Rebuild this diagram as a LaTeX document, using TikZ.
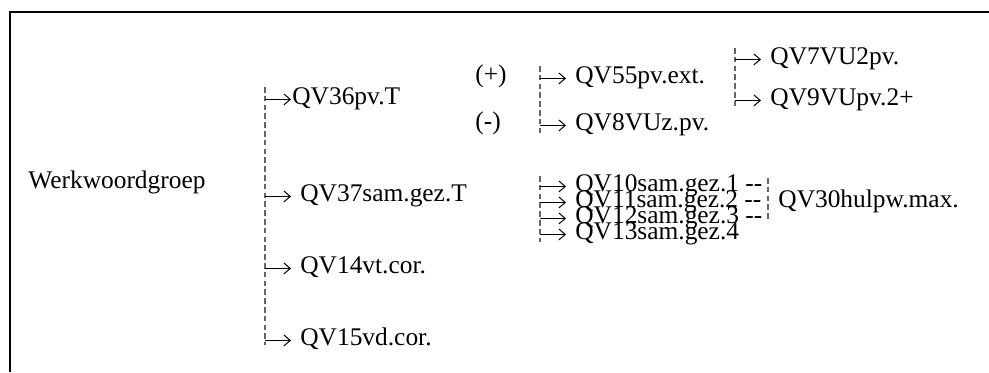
\documentclass[tikz,border=0pt]{standalone}
\usepackage{fontspec}
\setmainfont{Liberation Serif}
\usetikzlibrary{arrows.meta}

\tikzset{
  item/.style={anchor=base west,inner sep=0pt,font=\fontsize{12.7}{14}\selectfont},
  bar/.style={draw=black!60,line width=0.6pt,dash pattern=on 2.8pt off 1.6pt},
  link/.style={line width=0.5pt,-{Straight Barb[length=3.2pt,width=5.5pt]}}
}

\begin{document}
\begin{tikzpicture}[x=0.5pt,y=-0.5pt]
        \useasboundingbox (0,0) rectangle (989,372);
        \draw[line width=1pt] (10,372) -- (10,12) -- (989,12);
        % first level
        \node[item] (wwg) at (28,188) {Werkwoordgroep};
        \coordinate (b1t) at (265,87);
        \coordinate (b1b) at (265,345);
        \draw[bar] (b1t) -- (b1b);
        \node[item] (q36) at (292,104) {QV36pv.T};
        \node[item] (q37) at (300,201) {QV37sam.gez.T};
        \node[item] (q14) at (300,273) {QV14vt.cor.};
        \node[item] (q15) at (300,345) {QV15vd.cor.};
        \draw[link] (b1t |- q36.mid west) -- ([xshift=-0.5pt]q36.mid west);
        \draw[link] (b1t |- q37.mid west) -- ([xshift=-4.5pt]q37.mid west);
        \draw[link] (b1t |- q14.mid west) -- ([xshift=-4.5pt]q14.mid west);
        \draw[link] (b1t |- q15.mid west) -- ([xshift=-4.5pt]q15.mid west);
        % pv.T branch
        \node[item] (plus) at (475,82) {(+)};
        \node[item] (minus) at (475,129) {(-)};
        \coordinate (b2t) at (540,66);
        \coordinate (b2b) at (540,133);
        \draw[bar] (b2t) -- (b2b);
        \node[item] (q55) at (575,83) {QV55pv.ext.};
        \node[item] (q8) at (575,130) {QV8VUz.pv.};
        \draw[link] (b2t |- q55.mid west) -- ([xshift=-4.5pt]q55.mid west);
        \draw[link] (b2t |- q8.mid west) -- ([xshift=-4.5pt]q8.mid west);
        \coordinate (b3t) at (735,48);
        \coordinate (b3b) at (735,107);
        \draw[bar] (b3t) -- (b3b);
        \node[item] (q7) at (770,64) {QV7VU2pv.};
        \node[item] (q9) at (770,105) {QV9VUpv.2+};
        \draw[link] (b3t |- q7.mid west) -- ([xshift=-4.5pt]q7.mid west);
        \draw[link] (b3t |- q9.mid west) -- ([xshift=-4.5pt]q9.mid west);
        % sam.gez.T branch
        \coordinate (b4t) at (540,176);
        \coordinate (b4b) at (540,242);
        \draw[bar] (b4t) -- (b4b);
        \node[item] (q10) at (575,191) {QV10sam.gez.1 -{}-};
        \node[item] (q11) at (575,207) {QV11sam.gez.2 -{}-};
        \node[item] (q12) at (575,223) {QV12sam.gez.3 -{}-};
        \node[item] (q13) at (575,239) {QV13sam.gez.4};
        \foreach \q in {q10,q11,q12,q13}
          \draw[link] (b4t |- \q.mid west) -- ([xshift=-4.5pt]\q.mid west);
        \coordinate (b5t) at (768,178);
        \coordinate (b5b) at (768,222);
        \draw[bar] (b5t) -- (b5b);
        \node[item] (q30) at (778,207) {QV30hulpw.max.};
\end{tikzpicture}
\end{document}
